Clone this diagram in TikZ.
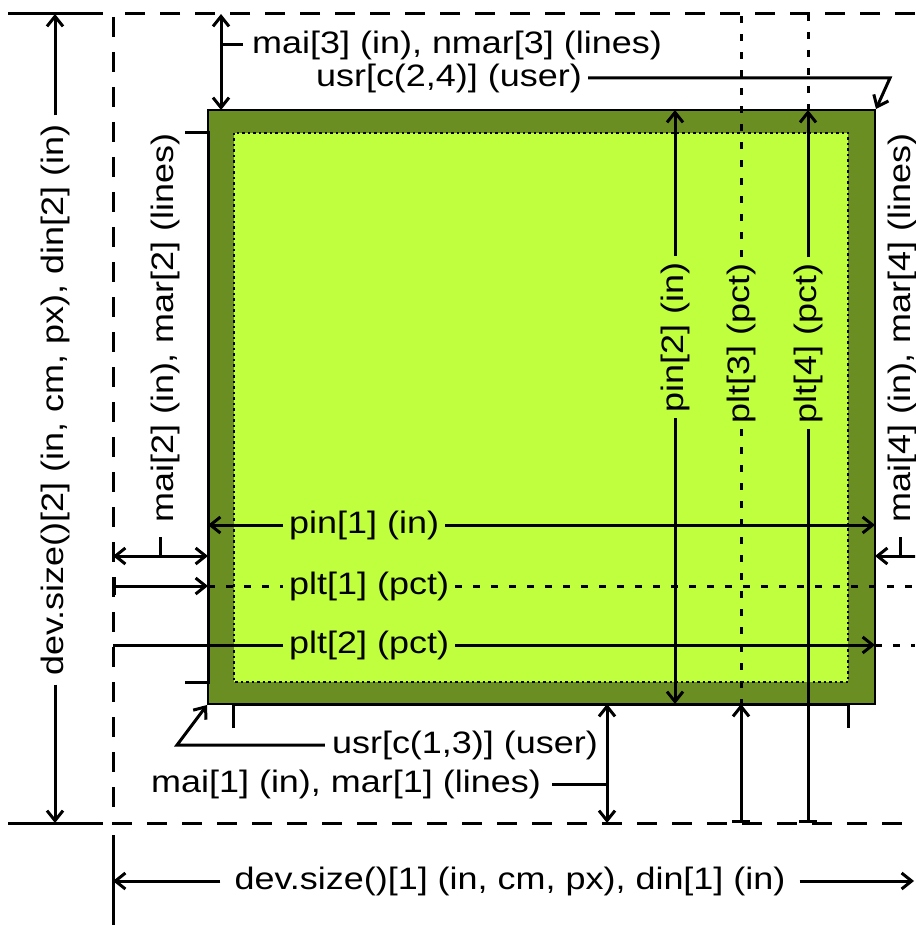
\documentclass[tikz,border=0pt]{standalone}
\usepackage{fontspec}
\newfontfamily\labfont[FakeStretch=1.16]{Liberation Sans}
\usetikzlibrary{arrows.meta}
\definecolor{plotdark}{HTML}{6B8E23}
\definecolor{plotlight}{HTML}{C0FF3E}
\begin{document}
\begin{tikzpicture}[x=1pt,y=-1pt,
  lab/.style={font=\labfont\fontsize{31pt}{37pt}\selectfont, inner sep=6pt},
  rlab/.style={lab, rotate=90},
  thick3/.style={line width=3pt},
  dashline/.style={line width=3pt, dash pattern=on 20pt off 15pt},
  dotline/.style={line width=3pt, dash pattern=on 7pt off 11pt},
  oneway/.style={-{Straight Barb[length=10pt,width=16pt]}},
  twoway/.style={{Straight Barb[length=10pt,width=16pt]}-{Straight Barb[length=10pt,width=16pt]}},
  barway/.style={{Bar[width=18pt]}-{Straight Barb[length=10pt,width=16pt]}},
  barstart/.style={{Bar[width=18pt]}-}
]
\useasboundingbox (0,0) rectangle (915,925);
\clip (0,0) rectangle (915,925);
\fill[white] (0,0) rectangle (915,925);

% plot region and user region
\fill[plotdark] (208,110) rectangle (875,704);
\draw[line width=1.5pt] (208,110) rectangle (875,704);
\fill[plotlight] (234,133) rectangle (848,682);
\draw[line width=1.2pt, dash pattern=on 2.5pt off 3pt] (234,133) rectangle (848,682);

% axes
\draw[thick3] (185,133) -- (208,133) -- (208,682) -- (185,682);
\draw[thick3] (233,728) -- (233,704) -- (848,704) -- (848,728);

% device and figure boundaries
\draw[thick3] (8,14) -- (103,14);
\draw[thick3] (8,823) -- (103,823);
\draw[dashline] (915,14) -- (113,14) -- (113,823) -- (915,823);
\draw[thick3] (113,835) -- (113,925);

% key points
\coordinate (devtop) at (55,14);
\coordinate (devbot) at (55,823);
\coordinate (figL) at (113,881);
\coordinate (figR) at (914,881);
\coordinate (m3a) at (221,14);
\coordinate (m3b) at (221,110);
\coordinate (m3k) at (243,45);
\coordinate (m3j) at (221,45);
\coordinate (u24k) at (890,78);
\coordinate (u24t) at (876,109);
\coordinate (m2a) at (113,556);
\coordinate (m2b) at (208,556);
\coordinate (m2j) at (160,556);
\coordinate (m2k) at (160,537);
\coordinate (m4a) at (875,556);
\coordinate (m4b) at (935,556);
\coordinate (m4j) at (900,556);
\coordinate (m4k) at (900,537);
\coordinate (p1l) at (208,525);
\coordinate (p1r) at (875,525);
\coordinate (pl1a) at (113,586);
\coordinate (pl1b) at (208,586);
\coordinate (pl1c) at (915,586);
\coordinate (pl2a) at (113,645);
\coordinate (pl2b) at (875,645);
\coordinate (pl2c) at (915,645);
\coordinate (p2t) at (675,110);
\coordinate (p2b) at (675,704);
\coordinate (pl3t) at (741,14);
\coordinate (pl3m) at (741,704);
\coordinate (pl3b) at (741,823);
\coordinate (pl4t) at (808,14);
\coordinate (pl4m) at (808,110);
\coordinate (pl4b) at (808,823);
\coordinate (u13k) at (177,745);
\coordinate (u13t) at (207,705);
\coordinate (m1a) at (607,704);
\coordinate (m1b) at (607,823);
\coordinate (m1j) at (607,784);
\coordinate (m1k) at (552,784);

% dev.size()[2]
\node[rlab, inner sep=9pt] (d2) at (55,400) {dev.size()[2] (in, cm, px), din[2] (in)};
\draw[thick3, oneway] (d2) -- (devtop);
\draw[thick3, oneway] (d2) -- (devbot);

% dev.size()[1]
\node[lab, inner sep=14pt] (d1) at (510,881) {dev.size()[1] (in, cm, px), din[1] (in)};
\draw[thick3, oneway] (d1) -- (figL);
\draw[thick3, oneway] (d1) -- (figR);

% mai[3]
\draw[thick3, twoway] (m3a) -- (m3b);
\draw[thick3] (m3j) -- (m3k);
\node[lab, anchor=west, inner sep=0pt] (m3) at (252,45) {mai[3] (in), nmar[3] (lines)};

% usr[c(2,4)]
\node[lab, anchor=east, inner sep=0pt] (u24) at (582,78) {usr[c(2,4)] (user)};
\draw[thick3, oneway] ([xshift=6pt]u24.east) -- (u24k) -- (u24t);

% mai[2]
\draw[thick3, twoway] (m2a) -- (m2b);
\draw[thick3] (m2j) -- (m2k);
\node[rlab, inner sep=0pt] (m2) at (165,328) {mai[2] (in), mar[2] (lines)};

% mai[4]
\draw[thick3, twoway] (m4a) -- (m4b);
\draw[thick3] (m4j) -- (m4k);
\node[rlab, inner sep=0pt] (m4) at (902,328) {mai[4] (in), mar[4] (lines)};

% pin[1]
\node[lab, anchor=west] (p1) at (283,525) {pin[1] (in)};
\draw[thick3, oneway] (p1) -- (p1l);
\draw[thick3, oneway] (p1) -- (p1r);

% plt[1]
\node[lab, anchor=west] (pl1) at (283,586) {plt[1] (pct)};
\draw[thick3, barway] (pl1a) -- (pl1b);
\draw[dotline] (pl1b) -- (pl1);
\draw[dotline] (pl1) -- (pl1c);

% plt[2]
\node[lab, anchor=west] (pl2) at (283,645) {plt[2] (pct)};
\draw[thick3] (pl2) -- (pl2a);
\draw[thick3, oneway] (pl2) -- (pl2b);
\draw[dotline] (pl2b) -- (pl2c);

% pin[2]
\node[rlab, anchor=east] (p2) at (675,256) {pin[2] (in)};
\draw[thick3, oneway] (p2) -- (p2t);
\draw[thick3, oneway] (p2) -- (p2b);

% plt[3]
\node[rlab, anchor=east] (pl3) at (741,257) {plt[3] (pct)};
\draw[dotline] (pl3) -- (pl3t);
\draw[dotline] (pl3) -- (pl3m);
\draw[thick3, barway] (pl3b) -- (pl3m);

% plt[4]
\node[rlab, anchor=east] (pl4) at (808,257) {plt[4] (pct)};
\draw[dotline] (pl4t) -- (pl4m);
\draw[thick3, oneway] (pl4) -- (pl4m);
\draw[thick3, barstart] (pl4b) -- (pl4);

% usr[c(1,3)]
\node[lab, anchor=east, inner sep=0pt] (u13) at (598,745) {usr[c(1,3)] (user)};
\draw[thick3, oneway] ([xshift=-7pt]u13.west) -- (u13k) -- (u13t);

% mai[1]
\draw[thick3, twoway] (m1a) -- (m1b);
\draw[thick3] (m1j) -- (m1k);
\node[lab, anchor=east, inner sep=0pt] (m1) at (541,784) {mai[1] (in), mar[1] (lines)};
\end{tikzpicture}
\end{document}
